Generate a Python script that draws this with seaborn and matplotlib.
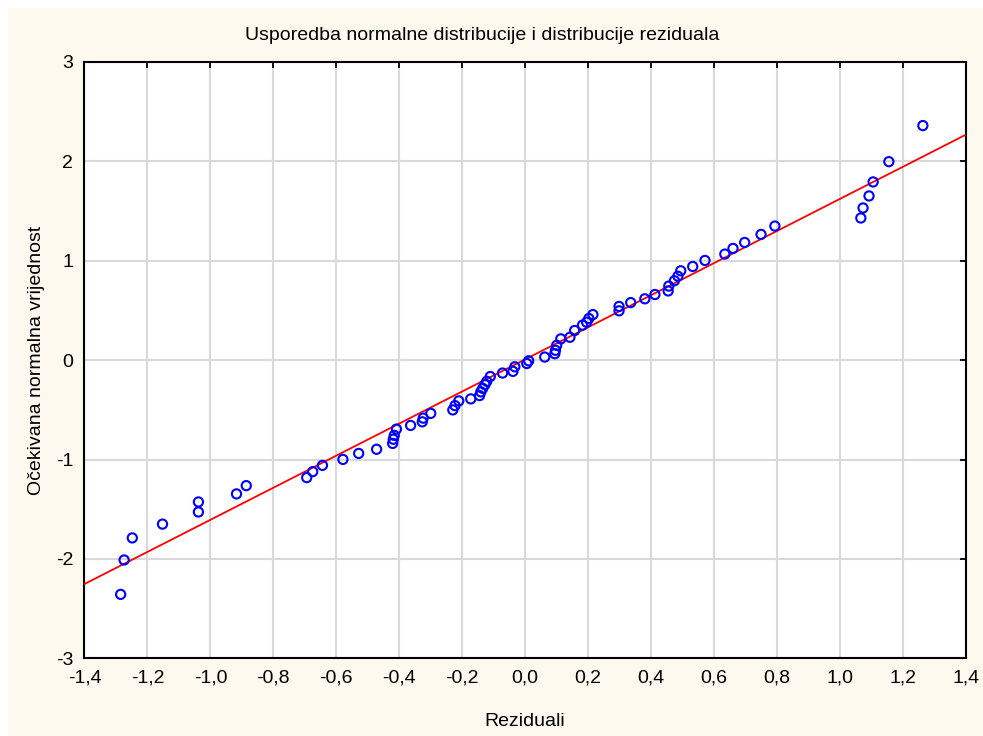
import numpy as np
import pandas as pd
import seaborn as sns
import matplotlib.pyplot as plt
from matplotlib.patches import Rectangle

# residuals (x) and expected normal values (y)
reziduali = [-1.285, -1.274, -1.248, -1.152, -1.038, -1.038, -0.917, -0.886,
             -0.694, -0.675, -0.644, -0.579, -0.529, -0.472, -0.421, -0.419,
             -0.416, -0.409, -0.364, -0.327, -0.324, -0.300, -0.230, -0.223,
             -0.211, -0.173, -0.145, -0.141, -0.135, -0.128, -0.122, -0.111,
             -0.072, -0.039, -0.033, 0.005, 0.011, 0.062, 0.094, 0.096,
             0.100, 0.113, 0.142, 0.157, 0.182, 0.195, 0.202, 0.215,
             0.298, 0.298, 0.335, 0.380, 0.412, 0.454, 0.456, 0.474,
             0.485, 0.494, 0.532, 0.571, 0.634, 0.660, 0.697, 0.749,
             0.793, 1.066, 1.073, 1.092, 1.105, 1.155, 1.263]
ocekivana = [-2.357, -2.011, -1.789, -1.650, -1.528, -1.427, -1.346, -1.263,
             -1.182, -1.122, -1.059, -0.999, -0.939, -0.897, -0.838, -0.796,
             -0.757, -0.694, -0.657, -0.621, -0.584, -0.536, -0.501, -0.458,
             -0.410, -0.390, -0.357, -0.319, -0.284, -0.247, -0.213, -0.165,
             -0.130, -0.113, -0.067, -0.034, -0.007, 0.031, 0.065, 0.099,
             0.149, 0.214, 0.230, 0.298, 0.352, 0.381, 0.419, 0.458,
             0.496, 0.540, 0.579, 0.617, 0.660, 0.696, 0.745, 0.799,
             0.844, 0.899, 0.942, 1.003, 1.067, 1.124, 1.184, 1.265,
             1.349, 1.430, 1.531, 1.652, 1.793, 1.997, 2.360]

# fitted normal line
line_slope = 1.615
line_intercept = 0.008

x_ticks = [-1.4, -1.2, -1.0, -0.8, -0.6, -0.4, -0.2, 0.0, 0.2, 0.4, 0.6, 0.8, 1.0, 1.2, 1.4]
x_ticklabels = ['-1,4', '-1,2', '-1,0', '-0,8', '-0,6', '-0,4', '-0,2', '0,0',
                '0,2', '0,4', '0,6', '0,8', '1,0', '1,2', '1,4']
y_ticks = [-3, -2, -1, 0, 1, 2, 3]

sns.set_theme(style='white')
plt.rcParams['font.family'] = ['Liberation Sans', 'DejaVu Sans']
plt.rcParams['axes.unicode_minus'] = False

df = pd.DataFrame({'Reziduali': reziduali, 'Ocekivana': ocekivana})
xlim = (x_ticks[0], x_ticks[-1])
line_df = pd.DataFrame({'x': list(xlim)})
line_df['y'] = line_intercept + line_slope * line_df['x']

fig = plt.figure(figsize=(9.83, 7.36), dpi=100, facecolor='white')
bg = Rectangle((8 / 983, 0), 1 - 8 / 983, 1 - 8 / 736,
               transform=fig.transFigure, facecolor='#fdf9ee',
               edgecolor='none', zorder=-10)
fig.add_artist(bg)
ax = fig.add_axes([0.0859, 0.1056, 0.8968, 0.8102])
ax.set_facecolor('white')

sns.lineplot(data=line_df, x='x', y='y', color='red', linewidth=1.3, ax=ax, zorder=3)
sns.scatterplot(data=df, x='Reziduali', y='Ocekivana', marker='o', s=44,
                facecolor='none', edgecolor='blue', linewidth=1.5, ax=ax, zorder=4)

ax.set_xlim(*xlim)
ax.set_ylim(y_ticks[0], y_ticks[-1])
ax.set_xticks(x_ticks)
ax.set_xticklabels(x_ticklabels)
ax.set_yticks(y_ticks)
ax.grid(True, color='#d9d9d9', linewidth=1.5)
ax.set_axisbelow(True)
for sp in ax.spines.values():
    sp.set_color('black')
    sp.set_linewidth(1.5)
ax.tick_params(direction='in', length=4, width=1.3, color='black',
               top=True, right=True, labelsize=14, pad=8, labelcolor='black')

ax.set_xlabel('Reziduali', fontsize=14, labelpad=19, color='black')
ax.set_ylabel('Očekivana normalna vrijednost', fontsize=14, labelpad=8, color='black')
fig.text(482 / 983, 1 - 35 / 736, 'Usporedba normalne distribucije i distribucije reziduala',
         ha='center', va='center', fontsize=14, color='black')

fig.savefig('out.png', dpi=100, facecolor='white')
